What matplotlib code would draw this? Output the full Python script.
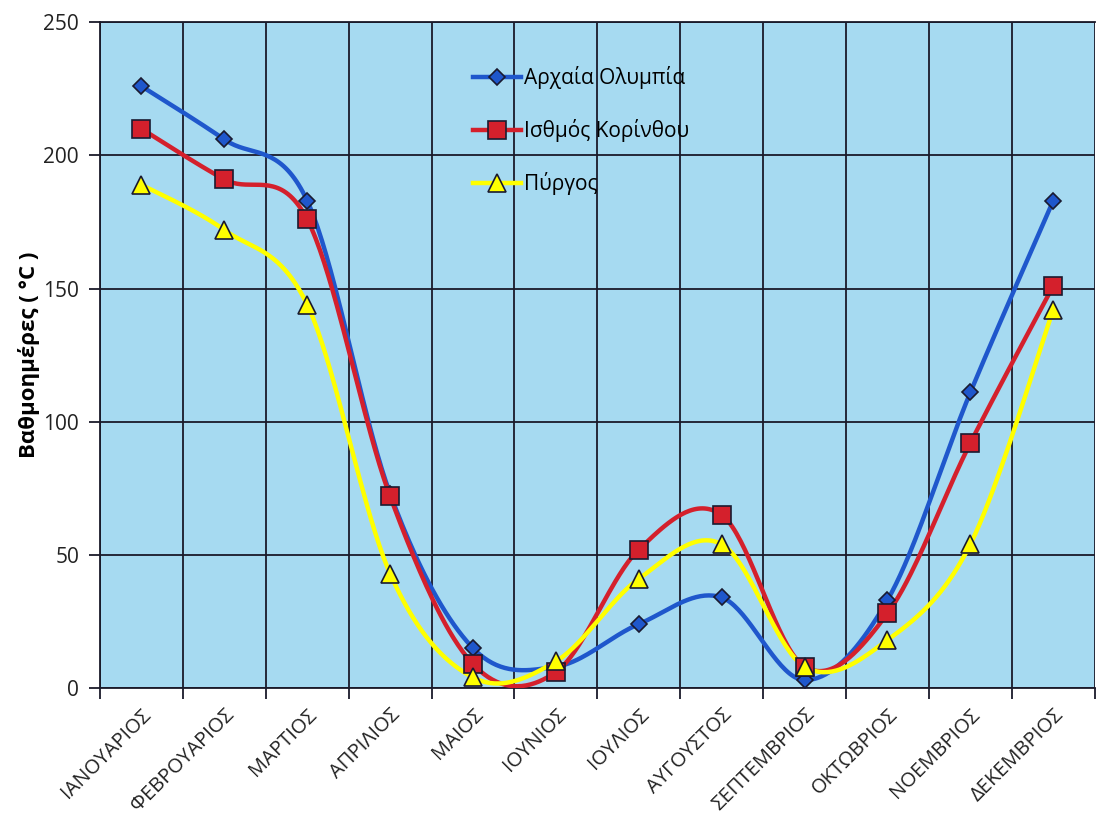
import matplotlib
matplotlib.use("Agg")
import matplotlib.pyplot as plt
import matplotlib.transforms as mtransforms
import numpy as np

plt.rcParams['font.family'] = ['Open Sans', 'DejaVu Sans']

# Βαθμοημέρες ανά μήνα για τρεις περιοχές
mines = ['ΙΑΝΟΥΑΡΙΟΣ', 'ΦΕΒΡΟΥΑΡΙΟΣ', 'ΜΑΡΤΙΟΣ', 'ΑΠΡΙΛΙΟΣ', 'ΜΑΙΟΣ', 'ΙΟΥΝΙΟΣ',
         'ΙΟΥΛΙΟΣ', 'ΑΥΓΟΥΣΤΟΣ', 'ΣΕΠΤΕΜΒΡΙΟΣ', 'ΟΚΤΩΒΡΙΟΣ', 'ΝΟΕΜΒΡΙΟΣ', 'ΔΕΚΕΜΒΡΙΟΣ']
olympia = [226, 206, 183, 73, 15, 8, 24, 34, 3, 33, 111, 183]
korinthos = [210, 191, 176, 72, 9, 6, 52, 65, 8, 28, 92, 151]
pyrgos = [189, 172, 144, 43, 4, 10, 41, 54, 8, 18, 54, 142]
yticks = [0, 50, 100, 150, 200, 250]


def omala(x, y, n=40):
    '''Ομαλή καμπύλη μέσα από τα σημεία (Catmull-Rom σε Bezier)'''
    pts = np.column_stack([x, y]).astype(float)
    N = len(pts)
    t = np.linspace(0, 1, n)[:, None]
    out = []
    for i in range(N - 1):
        p0 = pts[max(i - 1, 0)]
        p1 = pts[i]
        p2 = pts[i + 1]
        p3 = pts[min(i + 2, N - 1)]
        c1 = p1 + (p2 - p0) / 6
        c2 = p2 - (p3 - p1) / 6
        seg = ((1 - t) ** 3) * p1 + 3 * ((1 - t) ** 2) * t * c1 \
            + 3 * (1 - t) * t ** 2 * c2 + t ** 3 * p2
        out.append(seg if i == 0 else seg[1:])
    out = np.vstack(out)
    return out[:, 0], out[:, 1]


fig = plt.figure(figsize=(10.98, 8.24), dpi=100)
ax = fig.add_axes([0.091, 0.165, 0.906, 0.808])
ax.set_facecolor('#a6daf1')

x = np.arange(len(mines))
seires = [
    ('Αρχαία Ολυμπία', olympia, '#1f57cc', 'D', 8.5),
    ('Ισθμός Κορίνθου', korinthos, '#d4202c', 's', 12.5),
    ('Πύργος', pyrgos, '#ffff00', '^', 12.5),
]
for label, vals, col, mk, ms in seires:
    sx, sy = omala(x, vals)
    ax.plot(sx, sy, color=col, lw=3.2, zorder=3, solid_capstyle='round')
    ax.plot(x, vals, linestyle='none', marker=mk, markersize=ms,
            markerfacecolor=col, markeredgecolor='#1a1a30', markeredgewidth=1.2,
            zorder=4)
    # σειρά για το υπόμνημα
    ax.plot([], [], color=col, lw=3.2, marker=mk, markersize=ms,
            markerfacecolor=col, markeredgecolor='#1a1a30', markeredgewidth=1.2,
            label=label)

ax.set_xlim(-0.5, len(mines) - 0.5)
ax.set_ylim(0, 250)
ax.set_yticks(yticks)
ax.set_xticks(x)
ax.set_xticklabels(mines, rotation=45, ha='right', va='top',
                   rotation_mode='anchor', fontsize=14.5, color='#222222')
# οι ετικέτες των μηνών λίγο πιο δεξιά
metatopisi = mtransforms.ScaledTranslation(8 / 72, 0, fig.dpi_scale_trans)
for lbl in ax.get_xticklabels():
    lbl.set_transform(lbl.get_transform() + metatopisi)
ax.set_xticks(np.arange(len(mines) + 1) - 0.5, minor=True)
ax.tick_params(axis='x', which='major', length=0, pad=12)
ax.tick_params(axis='x', which='minor', length=8, width=1.3, color='#1a1a2a')
ax.tick_params(axis='y', length=8, width=1.3, color='#1a1a2a', labelsize=15,
               labelcolor='#222222', pad=7)

ax.grid(True, axis='y', which='major', color='#1a1a2a', lw=1.3)
ax.grid(True, axis='x', which='minor', color='#1a1a2a', lw=1.3)
ax.set_axisbelow(True)
for s in ax.spines.values():
    s.set_color('#1a1a2a')
    s.set_linewidth(1.3)
ax.spines['right'].set_visible(False)

ax.set_ylabel('Βαθμοημέρες ( °C )', fontsize=16, fontweight='bold', labelpad=2)

ax.legend(loc='upper left', bbox_to_anchor=(0.365, 0.95), frameon=False,
          fontsize=15, handlelength=2.3, labelspacing=1.45, handletextpad=0.15,
          borderpad=0)

plt.savefig('out.png', dpi=100)
